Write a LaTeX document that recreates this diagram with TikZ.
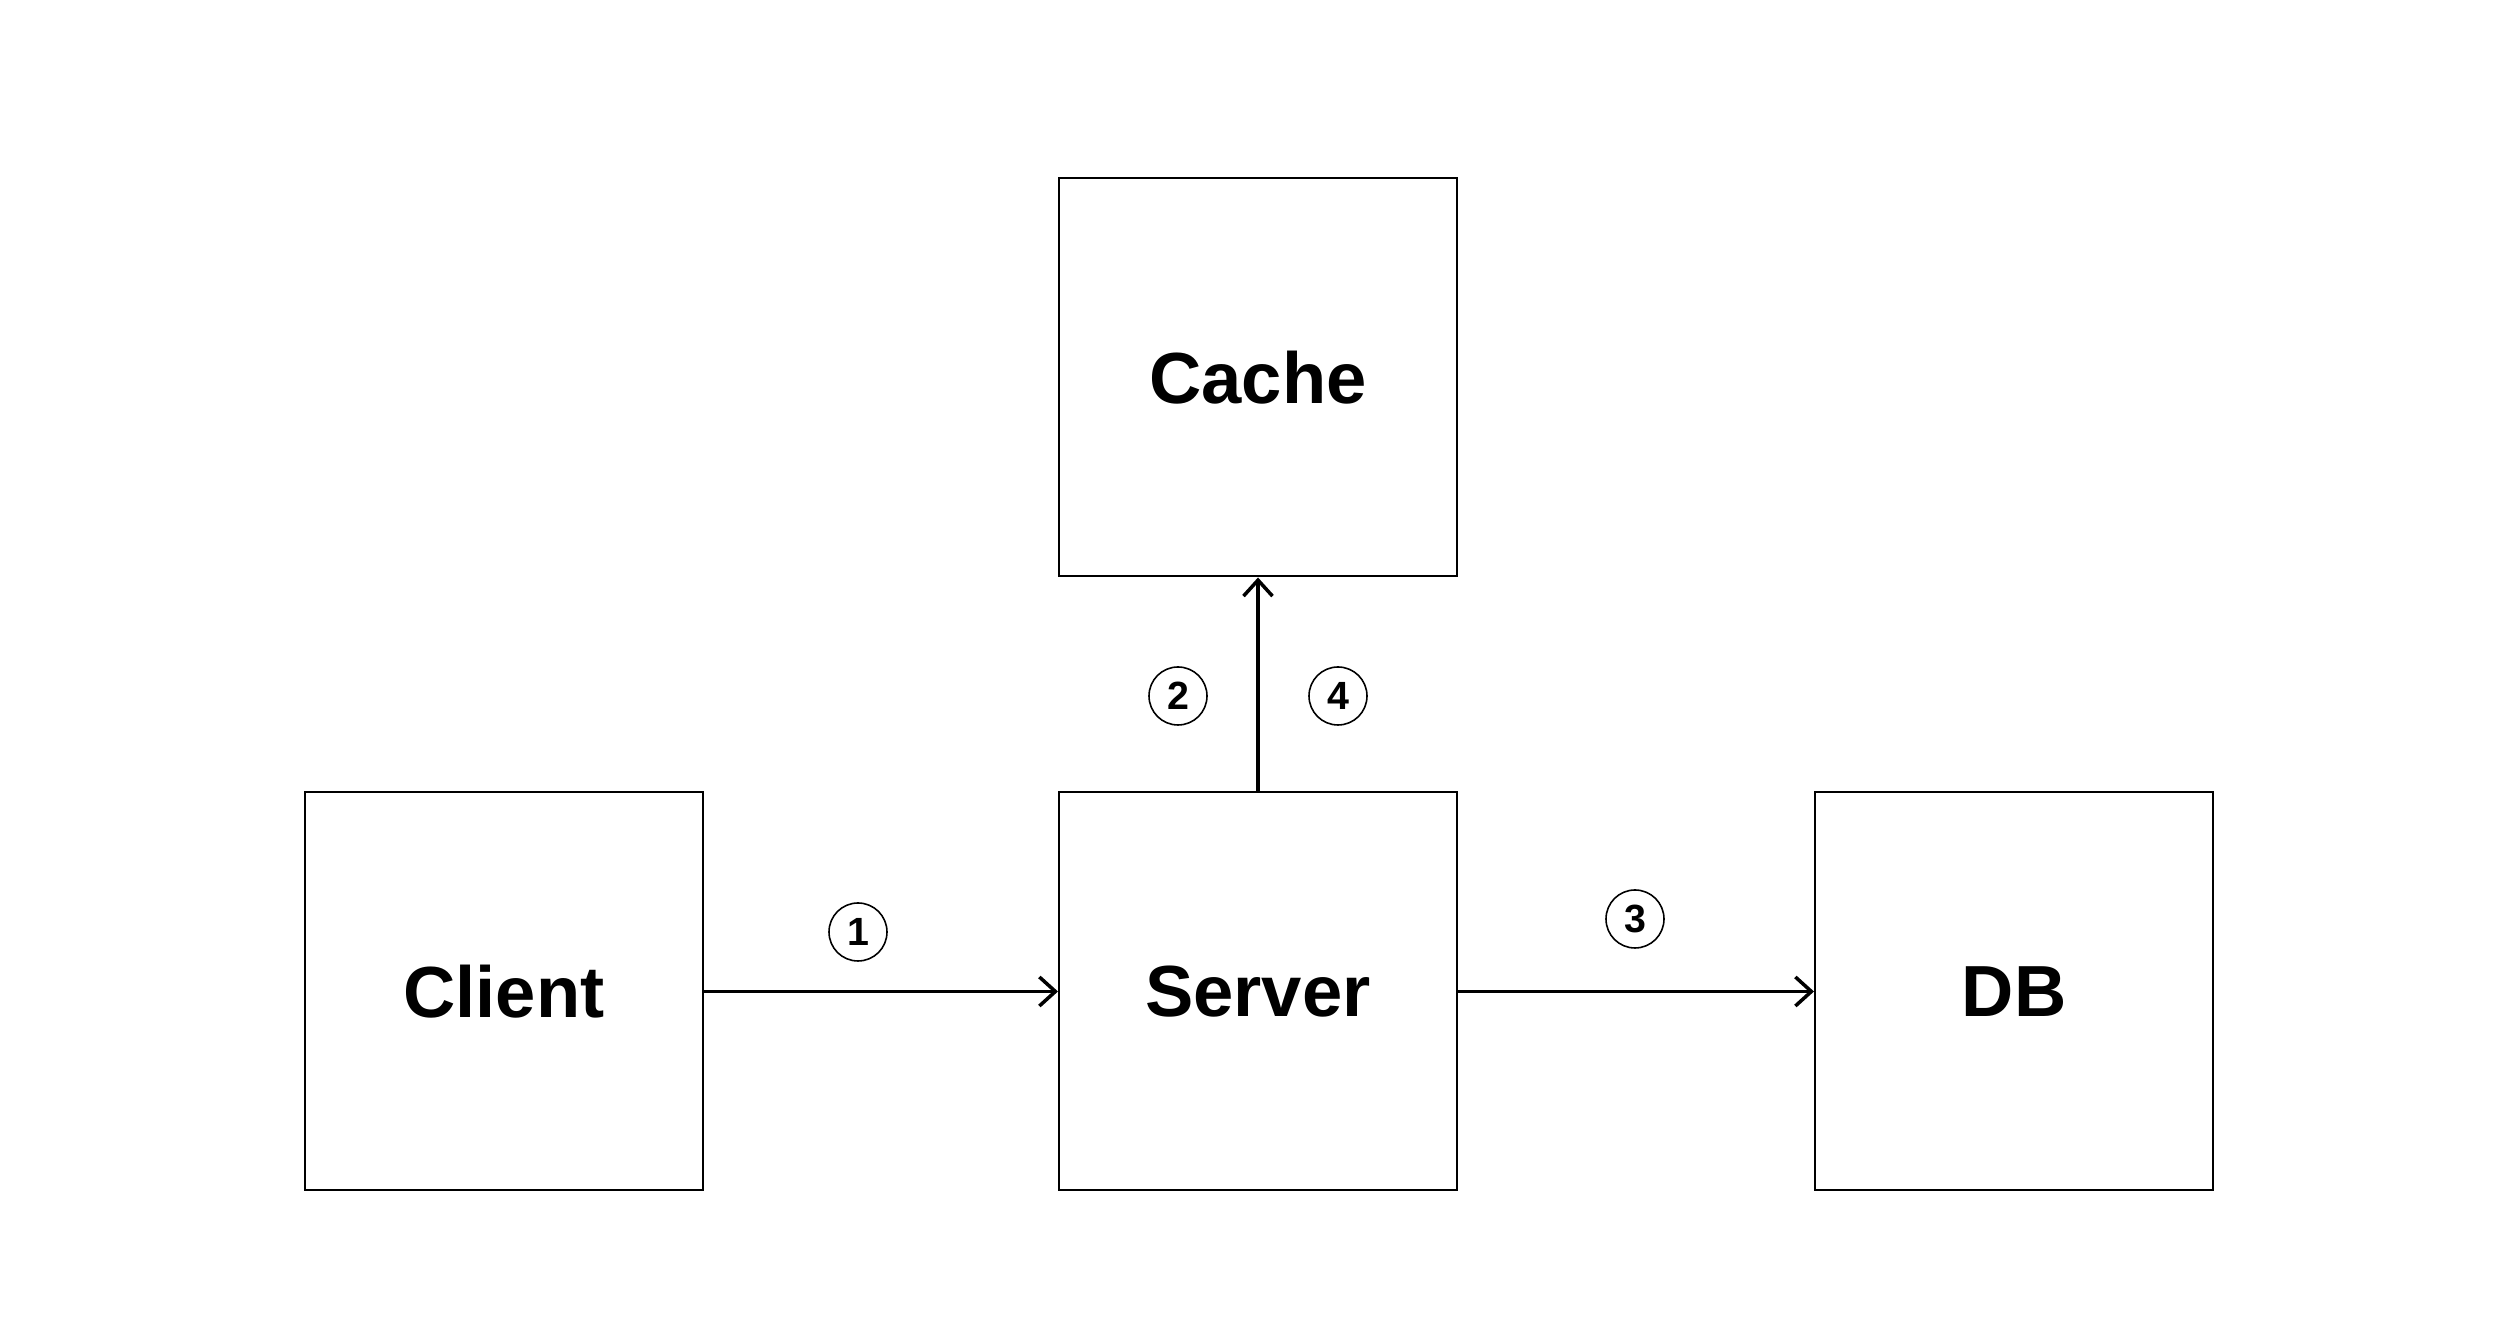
\documentclass[tikz,border=0pt]{standalone}
\usepackage{fontspec}
\setmainfont{Liberation Sans}
\usetikzlibrary{positioning}
\usetikzlibrary{arrows.meta}

\tikzset{
    block/.style={draw, line width=0.57pt, minimum size=3.98cm, inner sep=0pt,
        font=\fontsize{20.6}{24}\selectfont\bfseries},
    flow/.style={line width=1pt, -{Straight Barb[length=1.6mm, width=2.9mm, line width=1pt]}},
    stepnum/.style={draw, circle, line width=0.45pt, minimum size=5.8mm, inner sep=0pt,
        font=\fontsize{11.2}{13}\selectfont\bfseries}
}

\begin{document}
\begin{tikzpicture}[node distance=3.56cm]
    \useasboundingbox (0,0) rectangle (25.16,-13.32);
    \node[block] (server) at (12.58,-9.915) {Server};
    \node[block, left=3.54cm of server] (client) {Client};
    \node[block, right=of server] (db) {DB};
    \node[block, above=2.14cm of server] (cache) {Cache};

    \draw[flow] (client) -- (server);
    \draw[flow] (server) -- (db);
    \draw[flow] (server) -- (cache);

    \node[stepnum] (one) at (8.58,-9.32) {1};
    \node[stepnum] (two) at (11.78,-6.96) {2};
    \node[stepnum] (three) at (16.35,-9.19) {3};
    \node[stepnum] (four) at (13.38,-6.96) {4};
\end{tikzpicture}
\end{document}
